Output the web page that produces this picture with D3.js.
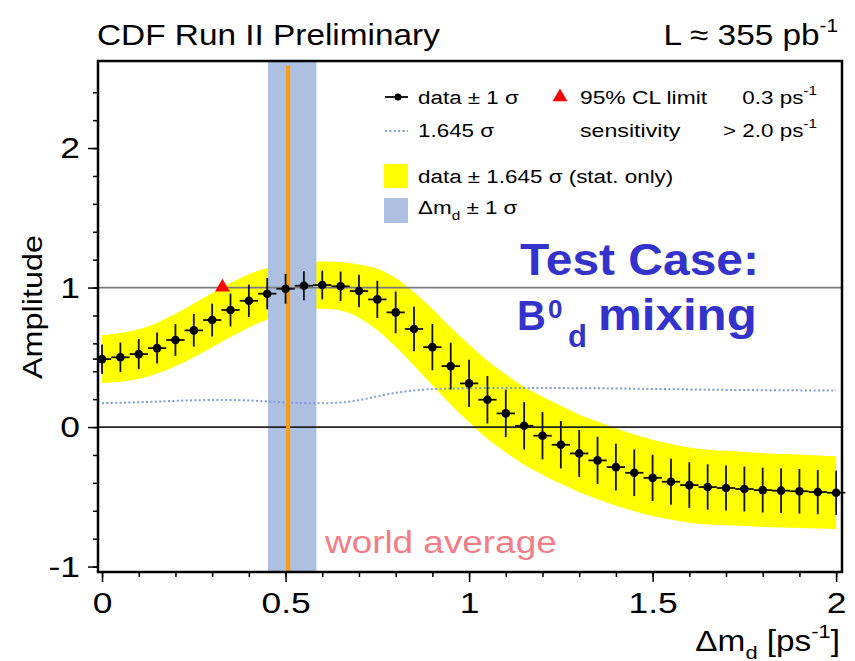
<!DOCTYPE html>
<html>
<head>
<meta charset="utf-8">
<script src="https://cdn.jsdelivr.net/npm/d3@7"></script>
<style>
  html, body { margin: 0; padding: 0; background: #ffffff; }
  svg { display: block; }
  text { font-family: "Liberation Sans", Arial, Helvetica, sans-serif; }
</style>
</head>
<body>
<div id="chart"></div>
<script>
// ---------------- data ----------------
const deltaM = [0.00,0.05,0.10,0.15,0.20,0.25,0.30,0.35,0.40,0.45,0.50,0.55,0.60,0.65,0.70,0.75,0.80,0.85,0.90,0.95,
                1.00,1.05,1.10,1.15,1.20,1.25,1.30,1.35,1.40,1.45,1.50,1.55,1.60,1.65,1.70,1.75,1.80,1.85,1.90,1.95,2.00];
const amplitude = [0.487,0.500,0.523,0.566,0.624,0.693,0.767,0.839,0.905,0.956,0.991,1.013,1.018,1.009,0.975,0.915,0.822,0.703,0.573,0.437,
                   0.313,0.196,0.098,0.009,-0.062,-0.127,-0.189,-0.239,-0.287,-0.328,-0.364,-0.392,-0.416,-0.430,-0.437,-0.444,-0.452,-0.456,-0.460,-0.466,-0.471];
const sigma = [0.104,0.106,0.108,0.111,0.114,0.117,0.118,0.118,0.116,0.112,0.107,0.104,0.103,0.106,0.116,0.134,0.150,0.160,0.166,0.168,
               0.169,0.170,0.170,0.170,0.170,0.170,0.169,0.169,0.168,0.167,0.166,0.165,0.164,0.163,0.162,0.161,0.161,0.160,0.160,0.159,0.159];
const binHalfWidth = 0.025;
const sensitivityFactor = 1.645;
const limitPoint = { x: 0.328, y: 0.995 };          // red triangle (95% CL limit)
const worldAverage = 0.507;                          // orange line
const worldBand = [0.452, 0.584];                    // Δm_d ± 1σ band
const refLines = [1, 0];
const xTicks = [0, 0.5, 1, 1.5, 2];
const xTickLabels = ["0", "0.5", "1", "1.5", "2"];
const yTicks = [-1, 0, 1, 2];
const yTickLabels = ["-1", "0", "1", "2"];

// ---------------- setup ----------------
const W = 855, H = 661;
const svg = d3.select("#chart").append("svg").attr("width", W).attr("height", H);
svg.append("rect").attr("width", W).attr("height", H).attr("fill", "#ffffff");

const x = d3.scaleLinear().domain([-0.011, 2.016]).range([98, 842]);
const y = d3.scaleLinear().domain([-1.039, 2.624]).range([572, 61]);

const points = deltaM.map((d, i) => ({ x: d, a: amplitude[i], s: sigma[i] }));

function txt(parent, px, py, str, size, opts = {}) {
  const sx = opts.sx || 1.18;
  const rot = opts.rotate ? ` rotate(${opts.rotate})` : "";
  return parent.append("text")
    .attr("transform", `translate(${px},${py})${rot} scale(${sx},1)`)
    .attr("text-anchor", opts.anchor || "start")
    .style("font-size", size + "px")
    .style("font-weight", opts.bold ? "bold" : "normal")
    .attr("fill", opts.fill || "#000")
    .text(str);
}

const plot = svg.append("g");

// yellow band: data ± 1.645 σ
const band = d3.area()
  .x(d => x(d.x))
  .y0(d => y(d.a - sensitivityFactor * d.s))
  .y1(d => y(d.a + sensitivityFactor * d.s))
  .curve(d3.curveMonotoneX);
plot.append("path").datum(points).attr("d", band).attr("fill", "#ffff00");

// blue world-average band
plot.append("rect")
  .attr("x", x(worldBand[0])).attr("width", x(worldBand[1]) - x(worldBand[0]))
  .attr("y", y.range()[1]).attr("height", y.range()[0] - y.range()[1])
  .attr("fill", "#aec0e2");

// sensitivity dotted line
const sens = d3.line().x(d => x(d.x)).y(d => y(sensitivityFactor * d.s)).curve(d3.curveBasis);
plot.append("path").datum(points).attr("d", sens)
  .attr("fill", "none").attr("stroke", "#7f9ad6").attr("stroke-width", 2)
  .attr("stroke-dasharray", "2,2.4");

// reference horizontal lines
plot.selectAll("line.ref").data(refLines).join("line")
  .attr("x1", x.range()[0]).attr("x2", x.range()[1])
  .attr("y1", d => y(d)).attr("y2", d => y(d))
  .attr("stroke", d => d === 1 ? "#7a7a7a" : "#222").attr("stroke-width", 1.8);

// orange world-average line
plot.append("line")
  .attr("x1", x(worldAverage)).attr("x2", x(worldAverage))
  .attr("y1", y(2.59)).attr("y2", y.range()[0])
  .attr("stroke", "#ff9a00").attr("stroke-width", 4);

// data points with error bars
const pg = plot.append("g").attr("stroke", "#111").attr("stroke-width", 1.8);
pg.selectAll("line.v").data(points).join("line")
  .attr("x1", d => x(d.x)).attr("x2", d => x(d.x))
  .attr("y1", d => y(d.a - d.s)).attr("y2", d => y(d.a + d.s));
pg.selectAll("line.h").data(points).join("line")
  .attr("x1", d => x(d.x - binHalfWidth)).attr("x2", d => x(d.x + binHalfWidth))
  .attr("y1", d => y(d.a)).attr("y2", d => y(d.a));
plot.selectAll("circle.pt").data(points).join("circle")
  .attr("cx", d => x(d.x)).attr("cy", d => y(d.a)).attr("r", 4.3).attr("fill", "#000");

// red triangle
const tri = d3.symbol().type(d3.symbolTriangle).size(95);
plot.append("path").attr("d", tri())
  .attr("transform", `translate(${x(limitPoint.x)},${y(limitPoint.y) - 1})`)
  .attr("fill", "#ff0000");

// ---------------- axes ----------------
const axY = svg.append("g").attr("transform", `translate(${x.range()[0]},0)`)
  .call(d3.axisLeft(y).tickValues(yTicks).tickSize(10).tickPadding(8)
        .tickFormat((d, i) => yTickLabels[i]));
const axYm = svg.append("g").attr("transform", `translate(${x.range()[0]},0)`)
  .call(d3.axisLeft(y).tickValues(d3.range(-1, 2.41, 0.2)).tickSize(5).tickFormat(""));
const axX = svg.append("g").attr("transform", `translate(0,${y.range()[0]})`)
  .call(d3.axisBottom(x).tickValues(xTicks).tickSize(10).tickPadding(10)
        .tickFormat((d, i) => xTickLabels[i]));
const axXm = svg.append("g").attr("transform", `translate(0,${y.range()[0]})`)
  .call(d3.axisBottom(x).tickValues(d3.range(0, 2.01, 0.1)).tickSize(5).tickFormat(""));

[axY, axYm, axX, axXm].forEach(g => {
  g.select(".domain").remove();
  g.selectAll(".tick line").attr("stroke", "#000").attr("stroke-width", 1.5);
});
axY.selectAll(".tick text").each(function () {
  const t = d3.select(this);
  const tx = +t.attr("x");
  t.attr("x", 0).attr("transform", `translate(${tx},0) scale(1.18,1)`)
   .style("font-size", "30px").attr("fill", "#000")
   .style("font-family", '"Liberation Sans", Arial, sans-serif');
});
axX.selectAll(".tick text")
  .attr("transform", "scale(1.18,1)")
  .style("font-size", "30px").attr("fill", "#000")
  .style("font-family", '"Liberation Sans", Arial, sans-serif');

// frame
svg.append("rect")
  .attr("x", x.range()[0]).attr("y", y.range()[1])
  .attr("width", x.range()[1] - x.range()[0]).attr("height", y.range()[0] - y.range()[1])
  .attr("fill", "none").attr("stroke", "#000").attr("stroke-width", 2.5);

// ---------------- texts ----------------
txt(svg, 97, 45, "CDF Run II Preliminary", 29, { sx: 1.15 });
const lum = txt(svg, 838, 45, "", 29, { sx: 1.15, anchor: "end" });
lum.append("tspan").text("L ≈ 355 pb");
lum.append("tspan").attr("dy", -13).style("font-size", "18px").text("-1");

txt(svg, 42, 307, "Amplitude", 27, { rotate: -90, anchor: "middle", sx: 1.2 });

const xl = txt(svg, 840, 651, "", 29, { sx: 1.15, anchor: "end" });
xl.append("tspan").text("Δm");
xl.append("tspan").attr("dy", 8).style("font-size", "19px").text("d");
xl.append("tspan").attr("dy", -8).text(" [ps");
xl.append("tspan").attr("dy", -13).style("font-size", "19px").text("-1");
xl.append("tspan").attr("dy", 13).text("]");

txt(svg, 325, 553, "world average", 31, { sx: 1.19, fill: "#f47c86" });

const blue = "#3333cc";
txt(svg, 520, 275, "Test Case:", 44, { bold: true, sx: 1.09, fill: blue });
txt(svg, 517, 330, "B", 42, { bold: true, sx: 0.95, fill: blue });
txt(svg, 548, 318, "0", 26, { bold: true, sx: 1.0, fill: blue });
txt(svg, 568, 347, "d", 31, { bold: true, sx: 1.0, fill: blue });
txt(svg, 598, 330, "mixing", 44, { bold: true, sx: 1.12, fill: blue });

// ---------------- legend ----------------
const lg = svg.append("g");
lg.append("line").attr("x1", 385).attr("x2", 408).attr("y1", 97).attr("y2", 97)
  .attr("stroke", "#000").attr("stroke-width", 1.8);
lg.append("circle").attr("cx", 398).attr("cy", 97).attr("r", 3.5).attr("fill", "#000");
txt(lg, 418, 104, "data ± 1 σ", 19, { sx: 1.18 });
lg.append("path").attr("d", tri()).attr("transform", "translate(560,97)").attr("fill", "#ff0000");
txt(lg, 580, 104, "95% CL limit", 19, { sx: 1.2 });
const l1 = txt(lg, 817, 104, "", 19, { sx: 1.18, anchor: "end" });
l1.append("tspan").text("0.3 ps");
l1.append("tspan").attr("dy", -9).style("font-size", "13px").text("-1");

lg.append("line").attr("x1", 385).attr("x2", 408).attr("y1", 131).attr("y2", 131)
  .attr("stroke", "#7f9ad6").attr("stroke-width", 2).attr("stroke-dasharray", "2,2.4");
txt(lg, 418, 137, "1.645 σ", 19, { sx: 1.18 });
txt(lg, 580, 137, "sensitivity", 19, { sx: 1.22 });
const l2 = txt(lg, 817, 137, "", 19, { sx: 1.18, anchor: "end" });
l2.append("tspan").text("> 2.0 ps");
l2.append("tspan").attr("dy", -9).style("font-size", "13px").text("-1");

lg.append("rect").attr("x", 384).attr("y", 164).attr("width", 24).attr("height", 24).attr("fill", "#ffff00");
txt(lg, 418, 183, "data ± 1.645 σ (stat. only)", 19, { sx: 1.18 });
lg.append("rect").attr("x", 384).attr("y", 198).attr("width", 24).attr("height", 25).attr("fill", "#aec0e2");
const l4 = txt(lg, 418, 214, "", 19, { sx: 1.18 });
l4.append("tspan").text("Δm");
l4.append("tspan").attr("dy", 6).style("font-size", "13px").text("d");
l4.append("tspan").attr("dy", -6).text(" ± 1 σ");
</script>
</body>
</html>
